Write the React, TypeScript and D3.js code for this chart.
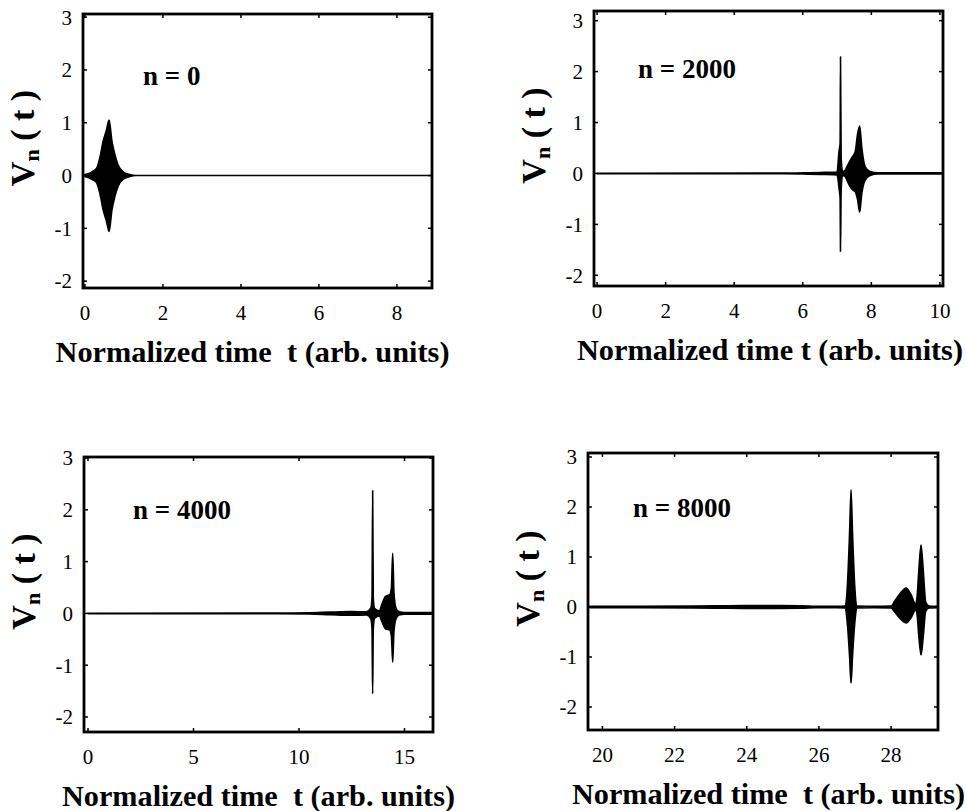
import React from 'react';
import * as d3 from 'd3';

// ---- data: envelope of V_n(t) (upper / lower) ----
const T_N0 = [0, 0.1, 0.2, 0.3, 0.38, 0.47, 0.55, 0.62, 0.69, 0.77, 0.85, 0.98, 1.15, 1.3, 8.9];
const UP_N0 = [0.02, 0.04, 0.08, 0.14, 0.33, 0.66, 0.86, 1.05, 0.66, 0.39, 0.2, 0.07, 0.02, 0, 0];
const LO_N0 = [-0.02, -0.04, -0.08, -0.14, -0.33, -0.66, -0.86, -1.06, -0.66, -0.39, -0.2, -0.07, -0.02, 0, 0];

const T_N2000 = [0, 5.5, 6.0, 6.5, 6.9, 7.0, 7.06, 7.09, 7.1, 7.12, 7.16, 7.22, 7.3, 7.38, 7.45, 7.53, 7.6, 7.66, 7.72, 7.82, 7.96, 8.2, 10.05];
const UP_N2000 = [0.004, 0.006, 0.012, 0.02, 0.025, 0.03, 0.45, 0.6, 2.29, 0.3, 0.04, 0.05, 0.15, 0.25, 0.33, 0.43, 0.78, 0.93, 0.52, 0.13, 0.04, 0.015, 0.015];
const LO_N2000 = [-0.004, -0.006, -0.012, -0.02, -0.025, -0.03, -0.3, -0.5, -1.53, -0.3, -0.04, -0.05, -0.15, -0.26, -0.32, -0.36, -0.52, -0.76, -0.4, -0.13, -0.04, -0.01, -0.01];

const T_N4000 = [0, 9, 10.5, 11.5, 12.5, 13.2, 13.4, 13.46, 13.49, 13.52, 13.58, 13.8, 13.95, 14.1, 14.3, 14.38, 14.44, 14.5, 14.6, 14.75, 15, 16.3];
const UP_N4000 = [0.004, 0.006, 0.012, 0.025, 0.035, 0.03, 0.1, 0.3, 2.37, 0.3, 0.1, 0.05, 0.2, 0.33, 0.36, 0.5, 1.16, 0.4, 0.1, 0.03, 0.015, 0.015];
const LO_N4000 = [-0.004, -0.006, -0.012, -0.025, -0.035, -0.03, -0.1, -0.3, -1.55, -0.3, -0.1, -0.05, -0.18, -0.3, -0.32, -0.45, -0.94, -0.35, -0.1, -0.03, -0.015, -0.015];

const T_N8000 = [19.65, 21, 22.5, 23.5, 24.5, 25.5, 25.9, 26.5, 26.72, 26.79, 26.85, 26.89, 26.93, 26.99, 27.06, 27.5, 28.0, 28.1, 28.25, 28.42, 28.55, 28.68, 28.72, 28.77, 28.83, 28.89, 28.96, 29.05, 29.28];
const UP_N8000 = [0.012, 0.012, 0.018, 0.025, 0.028, 0.025, 0.015, 0.012, 0.02, 0.45, 1.5, 2.34, 1.5, 0.45, 0.02, 0.012, 0.02, 0.12, 0.27, 0.38, 0.25, 0.06, 0.2, 0.75, 1.24, 0.75, 0.1, 0.02, 0.012];
const LO_N8000 = [-0.012, -0.012, -0.018, -0.025, -0.028, -0.025, -0.015, -0.012, -0.02, -0.35, -1.0, -1.52, -1.0, -0.35, -0.02, -0.012, -0.02, -0.1, -0.23, -0.32, -0.22, -0.06, -0.15, -0.6, -0.96, -0.6, -0.08, -0.02, -0.012];

const XTICKS_N0 = [0, 2, 4, 6, 8];
const XTICKS_N2000 = [0, 2, 4, 6, 8, 10];
const XTICKS_N4000 = [0, 5, 10, 15];
const XTICKS_N8000 = [20, 22, 24, 26, 28];
const YTICKS = [-2, -1, 0, 1, 2, 3];

const PANEL_LABELS = ['n = 0', 'n = 2000', 'n = 4000', 'n = 8000'];
const X_TITLES = [
  'Normalized time  t (arb. units)',
  'Normalized time t (arb. units)',
  'Normalized time  t (arb. units)',
  'Normalized time  t (arb. units)',
];

// ---- layout ----
const LAYOUT = [
  { left: 83, right: 432, top: 14, bottom: 288, xDom: [-0.05, 8.9], yDom: [-2.13, 3.06], lx: 60, ly: 71, tx: -5, tw: 394 },
  { left: 594, right: 943, top: 11, bottom: 286, xDom: [-0.09, 10.09], yDom: [-2.21, 3.19], lx: 44, ly: 67, tx: 1.5, tw: 386 },
  { left: 84, right: 433, top: 457, bottom: 732, xDom: [-0.19, 16.35], yDom: [-2.29, 3.02], lx: 49, ly: 62, tx: 0, tw: 393 },
  { left: 588, right: 938, top: 453, bottom: 730, xDom: [19.6, 29.3], yDom: [-2.46, 3.08], lx: 45, ly: 64, tx: 5.5, tw: 393 },
];

const SERIES = [
  { t: T_N0, up: UP_N0, lo: LO_N0, xt: XTICKS_N0 },
  { t: T_N2000, up: UP_N2000, lo: LO_N2000, xt: XTICKS_N2000 },
  { t: T_N4000, up: UP_N4000, lo: LO_N4000, xt: XTICKS_N4000 },
  { t: T_N8000, up: UP_N8000, lo: LO_N8000, xt: XTICKS_N8000 },
];

const FONT = "'Liberation Serif', 'DejaVu Serif', serif";

function Panel({ i }: { i: number }) {
  const L = LAYOUT[i];
  const S = SERIES[i];
  const x = d3.scaleLinear().domain(L.xDom).range([L.left, L.right]);
  const y = d3.scaleLinear().domain(L.yDom).range([L.bottom, L.top]);
  const pts = S.t.map((t, k) => ({ t, u: S.up[k], l: S.lo[k] }));
  const area = d3
    .area<{ t: number; u: number; l: number }>()
    .x((d) => x(d.t))
    .y0((d) => y(d.l))
    .y1((d) => y(d.u))
    .curve(d3.curveMonotoneX);
  const clipId = `clip${i}`;
  const tl = 4;
  const cx = (L.left + L.right) / 2;
  const cy = (L.top + L.bottom) / 2;
  const txt = { fontFamily: FONT };
  return (
    <g>
      <defs>
        <clipPath id={clipId}>
          <rect x={L.left} y={L.top} width={L.right - L.left} height={L.bottom - L.top} />
        </clipPath>
      </defs>
      <path d={area(pts) || ''} fill="#000" stroke="#000" strokeWidth={1.6} strokeLinejoin="round" clipPath={`url(#${clipId})`} />
      {S.xt.map((v) => (
        <g key={'xt' + v}>
          <line x1={x(v)} x2={x(v)} y1={L.bottom} y2={L.bottom - tl} stroke="#000" strokeWidth={1.5} />
          <line x1={x(v)} x2={x(v)} y1={L.top} y2={L.top + tl} stroke="#000" strokeWidth={1.5} />
          <text x={x(v)} y={L.bottom + 32} textAnchor="middle" fontSize={21} style={txt}>
            {v}
          </text>
        </g>
      ))}
      {YTICKS.map((v) => (
        <g key={'yt' + v}>
          <line x1={L.left} x2={L.left + tl} y1={y(v)} y2={y(v)} stroke="#000" strokeWidth={1.5} />
          <line x1={L.right} x2={L.right - tl} y1={y(v)} y2={y(v)} stroke="#000" strokeWidth={1.5} />
          <text x={L.left - 11} y={y(v)} dy="0.35em" textAnchor="end" fontSize={21} style={txt}>
            {v}
          </text>
        </g>
      ))}
      <rect x={L.left} y={L.top} width={L.right - L.left} height={L.bottom - L.top} fill="none" stroke="#000" strokeWidth={2.8} />
      <text x={L.left + L.lx} y={L.top + L.ly} fontSize={27} fontWeight="bold" style={txt}>
        {PANEL_LABELS[i]}
      </text>
      <text
        x={cx + L.tx}
        y={L.bottom + 74}
        textAnchor="middle"
        fontSize={30}
        fontWeight="bold"
        textLength={L.tw}
        lengthAdjust="spacingAndGlyphs"
        style={{ ...txt, whiteSpace: 'pre' }}
      >
        {X_TITLES[i]}
      </text>
      <g transform={`translate(${L.left - 49},${cy - 13}) rotate(-90)`}>
        <text textAnchor="middle" fontSize={34} fontWeight="bold" style={{ ...txt, whiteSpace: 'pre' }}>
          V<tspan fontSize={22} dy={5}>n</tspan>
          <tspan dy={-5}> ( t )</tspan>
        </text>
      </g>
    </g>
  );
}

export default function App() {
  return (
    <svg
      width={966}
      height={811}
      viewBox="0 0 966 811"
      style={{ position: 'absolute', left: 0, top: 0, background: '#fff', display: 'block' }}
    >
      <rect x={0} y={0} width={966} height={811} fill="#fff" />
      {[0, 1, 2, 3].map((i) => (
        <Panel key={i} i={i} />
      ))}
    </svg>
  );
}
